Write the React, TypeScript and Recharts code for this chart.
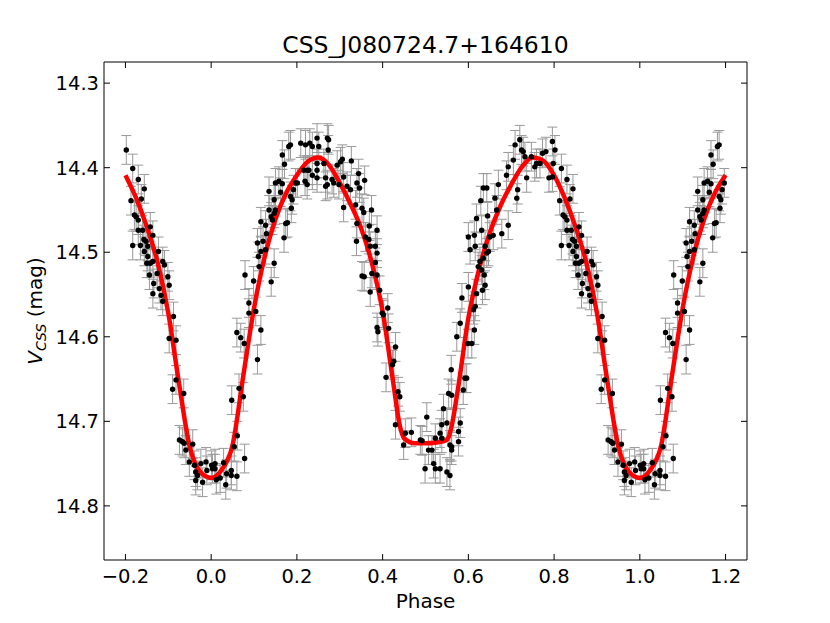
import React from "react";
import { ComposedChart, Scatter, Line, XAxis, YAxis, ErrorBar } from "recharts";

const X_TICKS = [-0.2, 0, 0.2, 0.4, 0.6, 0.8, 1.0, 1.2];
const Y_TICKS = [14.3, 14.4, 14.5, 14.6, 14.7, 14.8];
const MAG_ERR = 0.017;

// fitted light curve, one cycle
const FIT_PHASE = [
  0, 0.025, 0.05, 0.075, 0.1, 0.125, 0.15, 0.175, 0.2, 0.225, 0.25, 0.275, 0.3, 0.325,
  0.35, 0.375, 0.4, 0.425, 0.44, 0.45, 0.475, 0.5, 0.525, 0.55, 0.56, 0.575, 0.6, 0.625,
  0.65, 0.675, 0.7, 0.725, 0.75, 0.775, 0.8, 0.825, 0.85, 0.875, 0.9, 0.925, 0.95, 0.975,
];
const FIT_MAG = [
  14.767, 14.757, 14.728, 14.646, 14.566, 14.505, 14.461, 14.43, 14.409, 14.393, 14.388,
  14.397, 14.418, 14.443, 14.472, 14.513, 14.57, 14.655, 14.705, 14.72, 14.726, 14.726,
  14.725, 14.722, 14.708, 14.664, 14.578, 14.52, 14.477, 14.445, 14.42, 14.399, 14.388,
  14.392, 14.409, 14.436, 14.47, 14.512, 14.572, 14.655, 14.73, 14.76,
];

// observations [phase, mag], phase 0..1
const OBS_RISE1: [number, number][] = [
  [0.001, 14.752], [0.003, 14.756], [0.009, 14.75], [0.009, 14.756], [0.012, 14.769],
  [0.021, 14.767], [0.029, 14.749], [0.034, 14.775], [0.036, 14.762], [0.047, 14.758],
  [0.047, 14.764], [0.06, 14.765], [0.054, 14.73], [0.061, 14.717], [0.078, 14.744],
  [0.048, 14.675], [0.065, 14.661], [0.075, 14.671], [0.108, 14.627], [0.116, 14.592],
  [0.06, 14.595], [0.069, 14.601], [0.077, 14.608], [0.088, 14.572], [0.088, 14.56],
  [0.104, 14.57], [0.099, 14.534], [0.079, 14.527], [0.14, 14.535], [0.147, 14.513],
  [0.112, 14.517], [0.11, 14.505], [0.116, 14.499], [0.108, 14.489], [0.127, 14.497],
  [0.121, 14.487], [0.129, 14.478], [0.116, 14.464], [0.127, 14.468], [0.135, 14.45],
  [0.14, 14.458], [0.135, 14.428], [0.147, 14.438], [0.15, 14.45], [0.147, 14.454],
  [0.143, 14.462], [0.17, 14.483], [0.174, 14.466], [0.178, 14.465], [0.187, 14.448],
  [0.189, 14.438], [0.192, 14.426], [0.185, 14.434], [0.15, 14.418], [0.158, 14.416],
  [0.166, 14.419], [0.162, 14.429], [0.166, 14.385], [0.171, 14.396], [0.181, 14.375],
  [0.185, 14.373], [0.209, 14.371], [0.22, 14.373], [0.23, 14.371], [0.236, 14.375],
  [0.216, 14.403], [0.224, 14.403], [0.228, 14.403], [0.219, 14.416], [0.224, 14.42],
  [0.236, 14.409], [0.197, 14.418], [0.201, 14.418],
];
const OBS_FALL1: [number, number][] = [
  [0.247, 14.365], [0.251, 14.375], [0.247, 14.395], [0.247, 14.403], [0.247, 14.412],
  [0.271, 14.365], [0.274, 14.367], [0.273, 14.379], [0.263, 14.395], [0.267, 14.412],
  [0.271, 14.42], [0.267, 14.422], [0.282, 14.414], [0.286, 14.418], [0.294, 14.397],
  [0.302, 14.393], [0.306, 14.39], [0.298, 14.42], [0.309, 14.411], [0.317, 14.422],
  [0.325, 14.426], [0.327, 14.392], [0.309, 14.447], [0.344, 14.407], [0.34, 14.418],
  [0.346, 14.424], [0.358, 14.415], [0.337, 14.444], [0.34, 14.466], [0.352, 14.448],
  [0.356, 14.453], [0.374, 14.45], [0.369, 14.469], [0.36, 14.482], [0.368, 14.485],
  [0.339, 14.487], [0.371, 14.493], [0.387, 14.474], [0.383, 14.493], [0.387, 14.501],
  [0.383, 14.512], [0.375, 14.525], [0.387, 14.527], [0.352, 14.528], [0.357, 14.529],
  [0.371, 14.547], [0.393, 14.545], [0.399, 14.572], [0.412, 14.566], [0.402, 14.574],
  [0.414, 14.59], [0.387, 14.589], [0.389, 14.594], [0.43, 14.612], [0.426, 14.629],
  [0.423, 14.633], [0.408, 14.648], [0.436, 14.665], [0.44, 14.671], [0.43, 14.704],
  [0.453, 14.714], [0.467, 14.713], [0.449, 14.728], [0.488, 14.722], [0.492, 14.723],
];
const OBS_RISE2: [number, number][] = [
  [0.503, 14.695], [0.507, 14.734], [0.499, 14.756], [0.519, 14.75], [0.523, 14.756],
  [0.534, 14.756], [0.55, 14.76], [0.557, 14.764], [0.515, 14.734], [0.523, 14.72],
  [0.534, 14.714], [0.538, 14.704], [0.538, 14.72], [0.542, 14.685], [0.55, 14.702],
  [0.561, 14.73], [0.561, 14.734], [0.557, 14.728], [0.577, 14.712], [0.581, 14.702],
  [0.577, 14.724], [0.554, 14.667], [0.561, 14.669], [0.56, 14.639], [0.588, 14.663],
  [0.592, 14.649], [0.596, 14.649], [0.573, 14.6], [0.581, 14.584], [0.585, 14.554],
  [0.599, 14.608], [0.608, 14.608], [0.614, 14.592], [0.612, 14.568], [0.616, 14.564],
  [0.619, 14.549], [0.6, 14.541], [0.633, 14.545], [0.639, 14.539], [0.631, 14.521],
  [0.637, 14.527], [0.623, 14.517], [0.627, 14.511], [0.643, 14.501], [0.647, 14.499],
  [0.639, 14.493], [0.635, 14.507], [0.616, 14.493], [0.604, 14.497], [0.6, 14.482],
  [0.614, 14.48], [0.619, 14.46], [0.631, 14.474], [0.645, 14.457], [0.65, 14.482],
  [0.658, 14.48], [0.666, 14.45], [0.662, 14.436], [0.678, 14.478], [0.693, 14.468],
  [0.629, 14.439], [0.635, 14.424], [0.643, 14.424], [0.67, 14.42], [0.689, 14.409],
  [0.715, 14.426], [0.713, 14.436], [0.693, 14.399], [0.705, 14.391], [0.709, 14.373],
  [0.72, 14.367], [0.724, 14.379], [0.728, 14.381], [0.732, 14.387], [0.736, 14.412],
];
const OBS_FALL2: [number, number][] = [
  [0.747, 14.387], [0.755, 14.399], [0.759, 14.395], [0.767, 14.395], [0.773, 14.383],
  [0.781, 14.381], [0.796, 14.369], [0.802, 14.379], [0.798, 14.395], [0.788, 14.412],
  [0.796, 14.411], [0.817, 14.401], [0.83, 14.414], [0.844, 14.425], [0.813, 14.439],
  [0.837, 14.437], [0.821, 14.456], [0.825, 14.458], [0.83, 14.462], [0.83, 14.474],
  [0.84, 14.474], [0.843, 14.485], [0.817, 14.492], [0.835, 14.492], [0.848, 14.487],
  [0.844, 14.499], [0.858, 14.47], [0.864, 14.48], [0.852, 14.493], [0.852, 14.505],
  [0.858, 14.513], [0.864, 14.511], [0.85, 14.513], [0.856, 14.527], [0.866, 14.537],
  [0.864, 14.549], [0.877, 14.499], [0.887, 14.511], [0.891, 14.515], [0.874, 14.525],
  [0.879, 14.543], [0.899, 14.529], [0.902, 14.539], [0.883, 14.551], [0.887, 14.558],
  [0.912, 14.576], [0.902, 14.602], [0.918, 14.604], [0.91, 14.662], [0.918, 14.651],
  [0.936, 14.667], [0.926, 14.722], [0.933, 14.724], [0.937, 14.726], [0.941, 14.734],
  [0.957, 14.727], [0.949, 14.748], [0.961, 14.752], [0.964, 14.76], [0.968, 14.764],
  [0.964, 14.77], [0.976, 14.75], [0.988, 14.748], [0.98, 14.772], [0.99, 14.758],
];

// plot -0.2..1.2 by repeating the folded cycle
const obs = [...OBS_RISE1, ...OBS_FALL1, ...OBS_RISE2, ...OBS_FALL2];
const points = [
  ...obs.filter(([p]) => p >= 0.8).map(([p, m]) => ({ x: p - 1, y: m, e: MAG_ERR })),
  ...obs.map(([p, m]) => ({ x: p, y: m, e: MAG_ERR })),
  ...obs.filter(([p]) => p <= 0.2).map(([p, m]) => ({ x: p + 1, y: m, e: MAG_ERR })),
];
const fitBase = FIT_PHASE.map((p, i) => ({ x: p, y: FIT_MAG[i] }));
const fit = [
  ...fitBase.filter((d) => d.x >= 0.8).map((d) => ({ x: d.x - 1, y: d.y })),
  ...fitBase,
  ...fitBase.filter((d) => d.x <= 0.2).map((d) => ({ x: d.x + 1, y: d.y })),
];

const FONT = "DejaVu Sans";
const fmt = (v: number) => v.toFixed(1).replace("-", "\u2212");

const BottomTick = ({ x, y, payload }: any) => (
  <g>
    <line x1={x} x2={x} y1={y} y2={y - 6} stroke="#000" />
    <text x={x} y={y + 23} textAnchor="middle" fontSize={19.5} fontFamily={FONT} fill="#000">
      {fmt(payload.value)}
    </text>
  </g>
);
const TopTick = ({ x, y }: any) => <line x1={x} x2={x} y1={y} y2={y + 6} stroke="#000" />;
const LeftTick = ({ x, y, payload }: any) => (
  <g>
    <line x1={x} x2={x + 6} y1={y} y2={y} stroke="#000" />
    <text x={x - 5} y={y + 7} textAnchor="end" fontSize={19.5} fontFamily={FONT} fill="#000">
      {fmt(payload.value)}
    </text>
  </g>
);
const RightTick = ({ x, y }: any) => <line x1={x} x2={x - 6} y1={y} y2={y} stroke="#000" />;

export default function App() {
  return (
    <div style={{ position: "absolute", left: 0, top: 0, width: 830, height: 623, background: "#fff" }}>
      <ComposedChart width={830} height={623} margin={{ top: 52, right: 73, bottom: 23, left: 44 }}>
        <XAxis
          xAxisId={0}
          type="number"
          dataKey="x"
          domain={[-0.25, 1.25]}
          ticks={X_TICKS}
          interval={0}
          allowDataOverflow
          height={40}
          tickSize={0}
          tickMargin={0}
          tickLine={false}
          axisLine={{ stroke: "#000" }}
          tick={<BottomTick />}
        />
        <XAxis
          xAxisId="top"
          orientation="top"
          type="number"
          dataKey="x"
          domain={[-0.25, 1.25]}
          ticks={X_TICKS}
          interval={0}
          allowDataOverflow
          height={10}
          tickSize={0}
          tickMargin={0}
          tickLine={false}
          axisLine={{ stroke: "#000" }}
          tick={<TopTick />}
        />
        <YAxis
          yAxisId={0}
          type="number"
          dataKey="y"
          reversed
          domain={[14.275, 14.864]}
          ticks={Y_TICKS}
          interval={0}
          allowDataOverflow
          width={60}
          tickSize={0}
          tickMargin={0}
          tickLine={false}
          axisLine={{ stroke: "#000" }}
          tick={<LeftTick />}
        />
        <YAxis
          yAxisId="right"
          orientation="right"
          type="number"
          dataKey="y"
          reversed
          domain={[14.275, 14.864]}
          ticks={Y_TICKS}
          interval={0}
          allowDataOverflow
          width={10}
          tickSize={0}
          tickMargin={0}
          tickLine={false}
          axisLine={{ stroke: "#000" }}
          tick={<RightTick />}
        />
        <Scatter
          data={points}
          isAnimationActive={false}
          shape={(p: any) => <circle cx={p.cx} cy={p.cy} r={2.7} fill="#000" />}
        >
          <ErrorBar dataKey="e" direction="y" width={5} stroke="#999" strokeWidth={1} />
        </Scatter>
        <Line
          data={fit}
          dataKey="y"
          type="monotone"
          stroke="#ff0000"
          strokeWidth={4.5}
          dot={false}
          activeDot={false}
          isAnimationActive={false}
        />
      </ComposedChart>
      <svg
        width={830}
        height={623}
        style={{ position: "absolute", left: 0, top: 0, pointerEvents: "none" }}
        fontFamily={FONT}
      >
        <text x={425.5} y={53} textAnchor="middle" fontSize={23.5} fill="#000">
          CSS_J080724.7+164610
        </text>
        <text x={425.5} y={608} textAnchor="middle" fontSize={20} fill="#000">
          Phase
        </text>
        <text x={42} y={311} textAnchor="middle" fontSize={20} fill="#000" transform="rotate(-90 42 311)">
          <tspan fontStyle="italic">V</tspan>
          <tspan fontStyle="italic" fontSize={14} dy={4}>CSS</tspan>
          <tspan dy={-4}> (mag)</tspan>
        </text>
      </svg>
    </div>
  );
}
